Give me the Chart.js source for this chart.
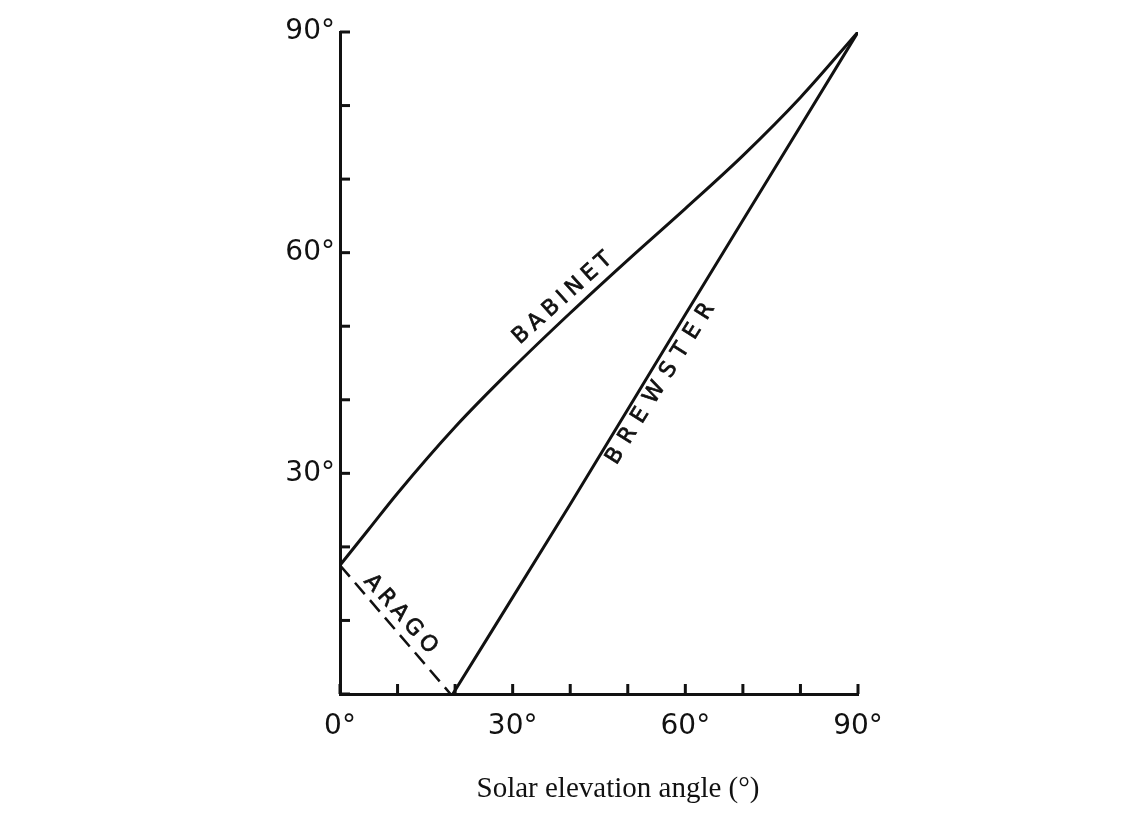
<!DOCTYPE html>
<html>
<head>
<meta charset="utf-8">
<script src="https://cdn.jsdelivr.net/npm/chart.js@4/dist/chart.umd.min.js"></script>
<style>
  body { margin: 0; background: #fff; }
  #wrap { width: 1145px; height: 815px; position: relative; }
</style>
</head>
<body>
<div id="wrap"><canvas id="polChart"></canvas></div>
<script>
// neutral points vs solar elevation (degrees)
var babinetX = [0, 5, 10, 20, 30, 40, 50, 60, 70, 80, 90];
var babinetY = [17.5, 22.4, 27.3, 36.3, 44.3, 51.8, 59, 66, 73.2, 81.1, 90];
var brewsterX = [19.6, 40, 60, 75, 90];
var brewsterY = [0, 25.8, 51.6, 70.8, 90];
var aragoX = [0, 19.2];
var aragoY = [17.5, 0];
var xTickLabels = [0, 30, 60, 90];
var yTickLabels = [30, 60, 90];
var curveNames = ['BABINET', 'BREWSTER', 'ARAGO'];

function pts(xs, ys) {
  return xs.map(function (x, i) { return { x: x, y: ys[i] }; });
}

// inward axis ticks, curve names and x title
var decor = {
  id: 'decor',
  afterDraw: function (chart) {
    var c = chart.ctx, xs = chart.scales.x, ys = chart.scales.y;
    c.save();
    c.strokeStyle = '#111';
    c.lineWidth = 3;
    xs.ticks.forEach(function (t) {
      var px = xs.getPixelForValue(t.value);
      c.beginPath(); c.moveTo(px, ys.bottom); c.lineTo(px, ys.bottom - 10); c.stroke();
    });
    ys.ticks.forEach(function (t) {
      var py = ys.getPixelForValue(t.value);
      c.beginPath(); c.moveTo(xs.left, py); c.lineTo(xs.left + 10, py); c.stroke();
    });

    // labels along the curves
    var anchors = [[39, 54, -42, 5], [56.1, 42.7, -58, 9], [10.8, 10.6, 48, 5]];
    c.fillStyle = '#111';
    c.lineWidth = 0.7;
    c.font = '22px "DejaVu Sans"';
    c.textAlign = 'center';
    c.textBaseline = 'middle';
    curveNames.forEach(function (name, i) {
      var a = anchors[i];
      c.save();
      c.translate(xs.getPixelForValue(a[0]), ys.getPixelForValue(a[1]));
      c.rotate(a[2] * Math.PI / 180);
      c.letterSpacing = a[3] + 'px';
      c.fillText(name, 0, 0);
      c.strokeText(name, 0, 0);
      c.restore();
    });

    c.font = '29px "Liberation Serif"';
    c.fillText('Solar elevation angle (°)', 618, 789);
    c.restore();
  }
};

var ctx = document.getElementById('polChart').getContext('2d');
var polChart = new Chart(ctx, {
  type: 'line',
  data: {
    datasets: [{
      label: 'Babinet',
      data: pts(babinetX, babinetY),
      borderColor: '#111',
      borderWidth: 3,
      pointRadius: 0,
      cubicInterpolationMode: 'monotone'
    }, {
      label: 'Brewster',
      data: pts(brewsterX, brewsterY),
      borderColor: '#111',
      borderWidth: 3,
      pointRadius: 0,
      cubicInterpolationMode: 'monotone'
    }, {
      label: 'Arago',
      data: pts(aragoX, aragoY),
      borderColor: '#111',
      borderWidth: 2.5,
      borderDash: [15, 8],
      pointRadius: 0
    }]
  },
  options: {
    responsive: true,
    maintainAspectRatio: false,
    animation: false,
    layout: { padding: { left: 250, right: 287, top: 32, bottom: 0 } },
    plugins: { legend: { display: false }, tooltip: { enabled: false } },
    scales: {
      x: {
        type: 'linear',
        min: 0,
        max: 90,
        afterFit: function (s) { s.height = 121; },
        grid: { display: false, drawTicks: false },
        border: { display: true, color: '#111', width: 3 },
        ticks: {
          stepSize: 10,
          autoSkip: false,
          maxRotation: 0,
          padding: 16,
          color: '#111',
          font: { family: 'DejaVu Sans', size: 28 },
          callback: function (v) { return xTickLabels.indexOf(v) >= 0 ? v + '°' : ''; }
        }
      },
      y: {
        type: 'linear',
        min: 0,
        max: 90,
        afterFit: function (s) { s.width = 90; },
        grid: { display: false, drawTicks: false },
        border: { display: true, color: '#111', width: 3 },
        ticks: {
          stepSize: 10,
          autoSkip: false,
          padding: 5,
          color: '#111',
          font: { family: 'DejaVu Sans', size: 28 },
          callback: function (v) { return yTickLabels.indexOf(v) >= 0 ? v + '°' : ''; }
        }
      }
    }
  },
  plugins: [decor]
});
</script>
</body>
</html>
